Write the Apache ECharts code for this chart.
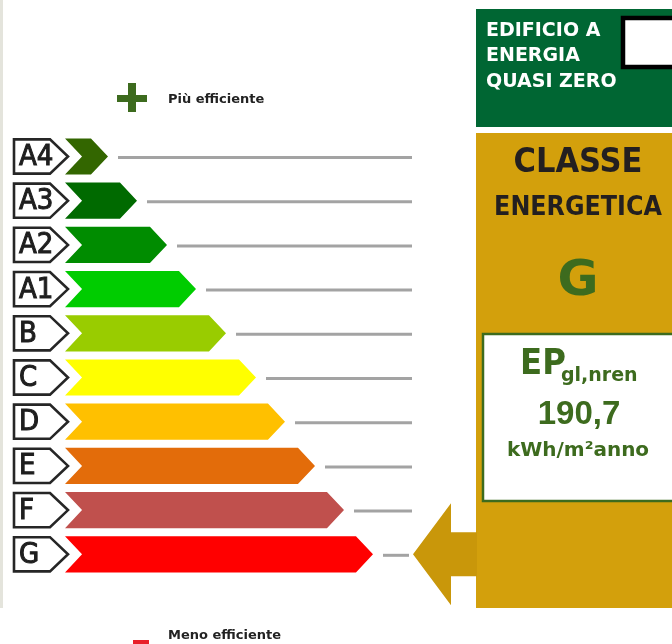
<!DOCTYPE html>
<html>
<head>
<meta charset="utf-8">
<script src="https://cdn.jsdelivr.net/npm/echarts@6/dist/echarts.min.js"></script>
<style>html,body{margin:0;padding:0;background:#fff}#chart{width:672px;height:644px}</style>
</head>
<body>
<div id="chart"></div>
<script>
// ---- data ----
const classes = ['A4', 'A3', 'A2', 'A1', 'B', 'C', 'D', 'E', 'F', 'G'];
const barLengths = [43, 72, 102, 131, 161, 191, 220, 250, 279, 308];
const barColors = ['#336600', '#006a00', '#008c00', '#00cc00', '#99cc00', '#ffff00', '#ffc000', '#e36c0a', '#c0504d', '#ff0000'];
const scaleMax = 348;
const currentClass = 'G';
const epValue = '190,7';
const nzebLines = ['EDIFICIO A', 'ENERGIA', 'QUASI ZERO'];

const chart = echarts.init(document.getElementById('chart'), null, {renderer: 'canvas'});
const GREEN = '#3d6b1e';
const GOLD = '#d3a00c';
const NARROW = '"Liberation Sans Narrow", "DejaVu Sans Condensed", sans-serif';
const WIDE = '"DejaVu Sans", sans-serif';

function renderItem(params, api) {
  const idx = api.value(1);
  const len = api.value(0);
  const tip = api.coord([len, idx]);
  const left = api.coord([0, idx]);
  const end = api.coord([scaleMax, idx]);
  const band = api.size([0, 1])[1];
  const h = band * 0.82;
  const cy = tip[1];
  const top = cy - h / 2, bot = cy + h / 2;
  const d = h * 0.47;
  const x0 = left[0];
  const isCur = classes[idx] === currentClass;
  const children = [];
  // label box
  children.push({
    type: 'polygon',
    shape: {points: [[x0 - 51, top + 1], [x0 - 15, top + 1], [x0 + 3, cy], [x0 - 15, bot - 1], [x0 - 51, bot - 1]]},
    style: {fill: '#fff', stroke: '#262626', lineWidth: 2.6}
  });
  children.push({
    type: 'text',
    style: {x: x0 - 46, y: cy + 1, text: classes[idx], fill: '#1e1e1e', stroke: '#1e1e1e', lineWidth: 1, font: 'normal 29px ' + NARROW, verticalAlign: 'middle', align: 'left'}
  });
  // bar
  children.push({
    type: 'polygon',
    shape: {points: [[x0, top], [tip[0] - d, top], [tip[0], cy], [tip[0] - d, bot], [x0, bot], [x0 + d, cy]]},
    style: {fill: api.visual('color')}
  });
  // line
  children.push({
    type: 'line',
    shape: {x1: tip[0] + 10, y1: cy + 1, x2: isCur ? end[0] - 4 : end[0] - 1, y2: cy + 1},
    style: {stroke: '#a3a3a3', lineWidth: 3}
  });
  if (isCur) {
    const t = end[0];
    children.push({
      type: 'polygon',
      shape: {points: [[t, cy], [t + 38, cy - 51], [t + 38, cy - 22], [t + 64, cy - 22], [t + 64, cy + 22], [t + 38, cy + 22], [t + 38, cy + 51]]},
      style: {fill: '#c9970a'}
    });
  }
  return {type: 'group', children};
}

const option = {
  animation: false,
  grid: {left: 65, top: 134.4, width: scaleMax, height: 442},
  xAxis: {type: 'value', min: 0, max: scaleMax, show: false},
  yAxis: {type: 'category', data: classes, inverse: true, show: false},
  series: [{
    type: 'custom',
    renderItem,
    data: barLengths.map((v, i) => ({value: [v, i], itemStyle: {color: barColors[i]}})),
    encode: {x: 0, y: 1}
  }],
  graphic: [
    {type: 'rect', shape: {x: 0, y: 0, width: 3, height: 608}, style: {fill: '#e4e4dc'}},
    // plus / minus
    {type: 'rect', shape: {x: 117, y: 95, width: 30, height: 7}, style: {fill: GREEN}},
    {type: 'rect', shape: {x: 128, y: 83, width: 8, height: 29}, style: {fill: GREEN}},
    {type: 'text', style: {x: 168, y: 100, text: 'Più efficiente', font: 'bold 13px ' + WIDE, fill: '#222', verticalAlign: 'middle'}},
    {type: 'rect', shape: {x: 133, y: 640, width: 16, height: 6}, style: {fill: '#e8202a'}},
    {type: 'text', style: {x: 168, y: 636, text: 'Meno efficiente', font: 'bold 13px ' + WIDE, fill: '#222', verticalAlign: 'middle'}},
    // NZEB box
    {type: 'rect', shape: {x: 476, y: 9, width: 196, height: 118}, style: {fill: '#006633'}},
    {type: 'rect', shape: {x: 623, y: 18, width: 60, height: 49}, style: {fill: '#fff', stroke: '#000', lineWidth: 4.5}},
    {type: 'text', style: {x: 486, y: 31, text: nzebLines[0], font: 'bold 19px ' + WIDE, fill: '#fff', verticalAlign: 'middle'}},
    {type: 'text', style: {x: 486, y: 56, text: nzebLines[1], font: 'bold 19px ' + WIDE, fill: '#fff', verticalAlign: 'middle'}},
    {type: 'text', style: {x: 486, y: 82, text: nzebLines[2], font: 'bold 19px ' + WIDE, fill: '#fff', verticalAlign: 'middle'}},
    // class panel
    {type: 'rect', shape: {x: 476, y: 133, width: 196, height: 475}, style: {fill: GOLD}},
    {type: 'text', style: {x: 578, y: 163, text: 'CLASSE', font: 'bold 34px ' + NARROW, fill: '#231f20', align: 'center', verticalAlign: 'middle'}},
    {type: 'text', style: {x: 578, y: 208, text: 'ENERGETICA', font: 'bold 26.5px ' + NARROW, fill: '#231f20', align: 'center', verticalAlign: 'middle'}},
    {type: 'text', style: {x: 578, y: 282, text: currentClass, font: 'bold 50px ' + WIDE, fill: GREEN, align: 'center', verticalAlign: 'middle'}},
    {type: 'rect', shape: {x: 483, y: 334, width: 192, height: 167}, style: {fill: '#fff', stroke: GREEN, lineWidth: 2.5}},
    {type: 'text', style: {x: 520, y: 365, text: 'EP', font: 'bold 36px ' + NARROW, fill: GREEN, verticalAlign: 'middle'}},
    {type: 'text', style: {x: 561, y: 376, text: 'gl,nren', font: 'bold 19px ' + WIDE, fill: GREEN, verticalAlign: 'middle'}},
    {type: 'text', style: {x: 579, y: 415, text: epValue, font: 'bold 33px "Liberation Sans", sans-serif', fill: GREEN, align: 'center', verticalAlign: 'middle'}},
    {type: 'text', style: {x: 578, y: 451, text: 'kWh/m²anno', font: 'bold 20px ' + WIDE, fill: GREEN, align: 'center', verticalAlign: 'middle'}}
  ]
};
chart.setOption(option);
</script>
</body>
</html>
